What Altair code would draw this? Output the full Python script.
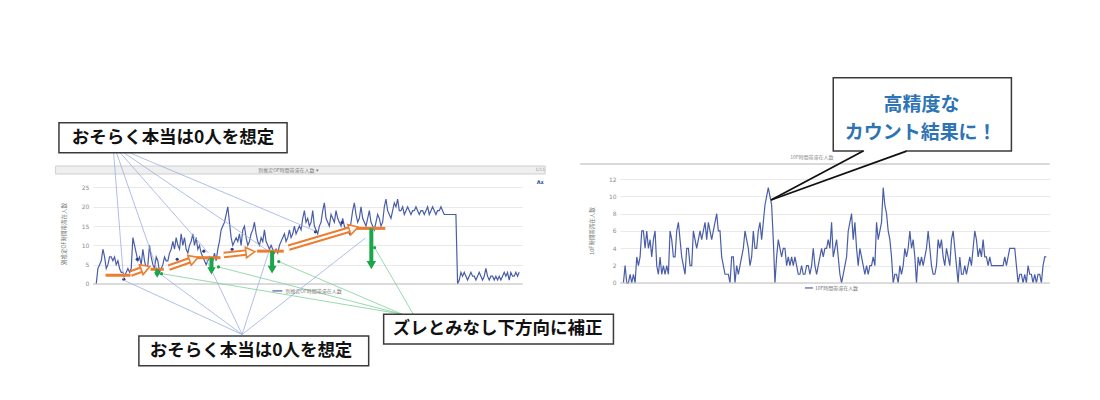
import math
import altair as alt
import pandas as pd

# ---------------- data ----------------
left_values = [
    0, 4, 5, 6, 9, 7, 4, 5, 7, 7, 6, 7, 5, 6, 4, 3, 3, 2, 3, 4, 3, 4,
    12, 10, 8, 6, 7, 5, 9, 6, 4, 5, 10, 7, 5, 4, 7, 6, 3, 4, 5, 7, 6, 6, 8, 9, 11,
    9, 12, 10, 9, 13, 10, 12, 9, 8, 10, 11, 13, 10, 12, 9, 10, 8, 7, 6, 5, 6, 7, 6, 6, 8, 6,
    9, 11, 14, 15, 16, 18, 20, 16, 12, 10, 11, 12, 11, 13, 10, 14, 15, 12, 10, 11,
    13, 14, 16, 13, 11, 10, 12, 11, 14, 11, 10, 9, 10, 9, 8, 9, 8, 10, 11, 12,
    13, 11, 12, 14, 12, 13, 15, 13, 14, 15, 14, 17, 19, 16, 17, 15, 16, 19, 15, 14,
    13, 15, 16, 19, 21, 17, 16, 15, 18, 17, 16, 19, 17, 16, 15, 17, 15, 14, 14, 13,
    16, 19, 21, 18, 16, 17, 20, 17, 16, 15, 17, 19, 16, 15, 14, 16, 18, 17, 15, 16,
    20, 22, 19, 18, 17, 19, 21, 20, 22, 19, 19, 20, 18, 19, 20, 19, 18, 19, 19, 20,
    19, 18, 19, 19, 18, 19, 20, 18, 19, 20, 19, 18, 19, 19, 20, 19, 18, 18, 18, 18,
    18, 18, 18, 18,
    0, 1, 3, 2, 3, 2, 1, 2, 3, 2, 2, 1, 2, 3, 2, 1, 2, 4, 2, 1,
    2, 2, 1, 2, 1, 2, 1, 2, 3, 2, 3, 1, 3, 2, 2, 3, 2, 3,
]
right_values = [
    0, 2, 0, 0, 1, 0, 1, 0, 3, 2, 3, 6, 6, 4, 6, 4, 5, 3, 5, 6,
    2, 1, 3, 1, 2, 1, 2, 1, 6, 5, 3, 3, 6, 7, 5, 3, 2, 1, 4, 4,
    2, 2, 6, 5, 4, 5, 6, 5, 6, 7, 5, 7, 6, 5, 6, 7, 8, 6, 6, 3,
    2, 1, 1, 1, 0, 3, 3, 0, 2, 1, 2, 3, 4, 6, 5, 4, 2, 3, 6, 4,
    4, 6, 7,
    5, 7, 9, 10, 11, 10, 9, 5, 0, 3, 5, 4, 3, 4, 4, 2, 3, 2, 3, 2,
    3, 2, 1, 1, 2, 1, 1, 2, 2, 1, 2, 4, 2, 1, 2, 3, 4, 3, 4, 4,
    5, 4, 7, 3, 4, 5, 3, 1, 0, 1, 2, 3, 6, 7, 8, 5, 7, 4, 2, 4,
    3, 2, 1, 2, 1, 2, 2, 3, 2, 7, 5, 6, 7, 11, 9, 8, 6, 5, 3, 0,
    1, 1, 0,
    2, 1, 2, 4, 3, 4, 6, 4, 5, 3, 0, 3, 2, 3, 2, 3, 4, 6, 4, 2,
    1, 1, 2, 5, 4, 5, 3, 2, 4, 3, 2, 5, 6, 4, 2, 0, 3, 1, 1, 2,
    1, 2, 3, 2, 4, 6, 5, 3, 4, 3, 5, 3, 3, 2, 3, 2, 2, 2, 2, 2,
    2, 2, 2, 3, 2, 3, 4, 4, 4, 4, 2, 0, 1, 1, 0, 1, 0, 2, 1, 1,
    0, 1, 0, 1, 1, 0, 2, 3, 3,
]
left_ticks = [0, 5, 10, 15, 20, 25]
right_ticks = [0, 2, 4, 6, 8, 10, 12]

left_name = "別推定OF時間帯滞在人数"
right_name = "10F時間帯滞在人数"
zero_text = "おそらく本当は0人を想定"
shift_text = "ズレとみなし下方向に補正"
callout_text = ["高精度な", "カウント結果に！"]

# annotation anchors (in each panel's data units)
orange_levels = [(5.6, 20.6, 2.25), (32.6, 40.6, 3.8), (60.6, 74.6, 6.8),
                 (96.6, 112.6, 8.5), (156.6, 173.6, 14.4)]
hollow_arrows = [(20.6, 2.67, 29.6, 4.1), (43.6, 4.22, 58.6, 6.5),
                 (76.6, 7.49, 92.6, 8.25), (115.6, 9.4, 154.6, 14.4)]
green_arrows = [(36.6, 3.8, 2.3, 40), (69.2, 6.8, 3.4, 70),
                (105.6, 8.5, 3.7, 80), (165.2, 14.4, 4.9, 90)]
green_dots = [(39.2, 2.67), (73.4, 4.4), (109.6, 5.8), (167.2, 9.4)]
navy_dots = [(16.6, 1.2), (24.6, 6.4), (48.6, 6.4), (64.6, 8.5), (81.6, 9.0),
             (131.6, 13.5), (147.6, 15.9)]
top_links = [(10.4, 34.2, 16.4, 1.3), (12.0, 34.2, 36.8, 3.4), (14.0, 34.2, 67.4, 8.0),
             (16.0, 34.2, 103.4, 8.5), (19.0, 34.2, 131.6, 13.7)]
bottom_links = [(87.6, -13.1, 16.4, 1.0), (87.6, -13.1, 36.8, 3.1), (87.6, -13.1, 65.6, 6.8),
                (87.6, -13.1, 103.4, 8.0), (87.6, -13.1, 161.6, 11.9)]
green_links = [(183.6, -7.85, 39.2, 2.67), (183.6, -7.85, 73.4, 4.4),
               (183.6, -7.85, 109.6, 5.8), (190.4, -7.85, 167.2, 9.4)]

XDOM = [-2, 256]
W = 430
LH, RH = 105, 104
LYMAX = 27.2
RYMAX = 12
PXX = W / (XDOM[1] - XDOM[0])
PXL = LH / LYMAX
PXR = RH / RYMAX

ORANGE = "#ed7d31"
GREEN = "#1aa64a"
LINE_BLUE = "#4a5ea8"
JP = "Noto Sans CJK JP"


def X(f="x"):
    return alt.X(f"{f}:Q", scale=alt.Scale(domain=XDOM, nice=False, zero=False), axis=None)


def make_y(ymax, ticks):
    ax = alt.Axis(values=ticks, grid=True, gridColor="#e9e9e9", domain=False, ticks=False,
                  labelFontSize=6, labelColor="#8c8c8c", labelPadding=4, title=None,
                  labelFont="DejaVu Sans")

    def Y(f="y"):
        return alt.Y(f"{f}:Q", scale=alt.Scale(domain=[0, ymax], nice=False, zero=False), axis=ax)
    return Y


LY = make_y(LYMAX, left_ticks)
RY = make_y(RYMAX, right_ticks)


def segs(rows):
    return pd.DataFrame(rows, columns=["x", "y", "x2", "y2"])


def rules(rows, Y, **kw):
    return alt.Chart(segs(rows)).mark_rule(**kw).encode(x=X("x"), y=Y("y"), x2="x2", y2="y2")


def box(x, x2, y, y2, Y):
    return alt.Chart(pd.DataFrame([{"x": x, "x2": x2, "y": y, "y2": y2}])).mark_rect(
        fill="white", stroke="#3a3a3a", strokeWidth=1.5).encode(x=X("x"), x2="x2", y=Y("y"), y2="y2")


def label(x, y, text, Y, **kw):
    return alt.Chart(pd.DataFrame([{"x": x, "y": y, "t": text}])).mark_text(**kw).encode(
        x=X("x"), y=Y("y"), text="t:N")


# ---------------- left panel ----------------
ldf = pd.DataFrame({"x": list(range(len(left_values))), "y": left_values})

frame = alt.Chart(pd.DataFrame([{"x": -52.6, "x2": 597.8, "y": 71.24, "y2": -28.24}])).mark_rect(
    opacity=0).encode(x=X("x"), x2="x2", y=LY("y"), y2="y2")

header = alt.Chart(pd.DataFrame([{"x": -24.4, "x2": 269.6, "y": 30.57, "y2": 28.5}])).mark_rect(
    fill="#efefef", stroke="#cfcfcf", strokeWidth=1).encode(x=X("x"), x2="x2", y=LY("y"), y2="y2")

baseline_l = alt.Chart(pd.DataFrame({"y": [0]})).mark_rule(color="#c4c4c4", strokeWidth=1).encode(y=LY("y"))

series_l = alt.Chart(ldf).mark_line(color=LINE_BLUE, strokeWidth=1.2, interpolate="linear").encode(
    x=X("x"), y=LY("y"))

navy = alt.Chart(pd.DataFrame(navy_dots, columns=["x", "y"])).mark_circle(
    color="#2b3b8c", size=10, opacity=1).encode(x=X("x"), y=LY("y"))

link_top = rules(top_links, LY, color="#9aaee0", strokeWidth=0.8)
link_bot = rules(bottom_links, LY, color="#9aaee0", strokeWidth=0.8)
link_green = rules(green_links, LY, color="#7fcf9a", strokeWidth=0.8)

olev = rules([(a, y, b, y) for a, b, y in orange_levels], LY, color=ORANGE, strokeWidth=3)
h_outer = rules(hollow_arrows, LY, color=ORANGE, strokeWidth=6.5)
h_inner = rules(hollow_arrows, LY, color="white", strokeWidth=2.5)
heads = []
for x0, y0, x1, y1 in hollow_arrows:
    ang = math.degrees(math.atan2(-(y1 - y0) * PXL, (x1 - x0) * PXX)) % 360
    heads.append({"x": x1, "y": y1, "a": ang})
h_heads = alt.Chart(pd.DataFrame(heads)).mark_point(
    shape="triangle-right", filled=True, fill="white", stroke=ORANGE, strokeWidth=1.6,
    size=110, opacity=1).encode(x=X("x"), y=LY("y"), angle=alt.Angle("a:Q", scale=None))

g_shaft = rules([(x, y0, x, y1) for x, y0, y1, s in green_arrows], LY, color=GREEN, strokeWidth=4)
g_heads = alt.Chart(pd.DataFrame([{"x": x, "y": y1, "s": s} for x, y0, y1, s in green_arrows])).mark_point(
    shape="triangle-down", filled=True, color=GREEN, opacity=1).encode(
    x=X("x"), y=LY("y"), size=alt.Size("s:Q", scale=None))
g_dots = alt.Chart(pd.DataFrame(green_dots, columns=["x", "y"])).mark_circle(
    color=GREEN, size=10, opacity=1).encode(x=X("x"), y=LY("y"))

top_box = box(-22.4, 114.6, 41.8, 34.0, LY)
top_txt = label(46.1, 37.9, zero_text, LY, font=JP, fontWeight="bold", fontSize=17.5,
                color="#111", baseline="middle", align="center")
bot_box = box(25.6, 163.6, -13.5, -21.2, LY)
bot_txt = label(93.0, -17.36, zero_text, LY, font=JP, fontWeight="bold", fontSize=17.5,
                color="#111", baseline="middle", align="center")
shift_box = box(172.6, 310.6, -7.85, -15.6, LY)
shift_txt = label(241.0, -11.74, shift_text, LY, font=JP, fontWeight="bold", fontSize=17.5,
                  color="#111", baseline="middle", align="center")

l_title = label(115.4, 29.5, left_name + " ▾", LY, font=JP, fontSize=5, color="#777",
                baseline="middle", align="center")
l_page = label(266.6, 29.5, "1/11", LY, font="DejaVu Sans", fontSize=4.5, color="#999",
               baseline="middle", align="center")
l_ax = label(266.6, 26.5, "Ax", LY, font="DejaVu Sans", fontSize=5, fontWeight="bold",
             color="#2f4fa0", baseline="middle", align="center")
l_ytitle = label(-19.6, 12.95, left_name, LY, font=JP, fontSize=5.5, color="#777",
                 baseline="middle", align="center", angle=270)
l_leg_line = rules([(105.8, -1.81, 111.8, -1.81)], LY, color=LINE_BLUE, strokeWidth=1.2)
l_leg_txt = label(113.6, -1.81, left_name, LY, font=JP, fontSize=5, color="#777",
                  baseline="middle", align="left")

left = alt.layer(
    frame, header, series_l, baseline_l, navy,
    link_top, link_bot, link_green,
    olev, h_outer, h_inner, h_heads, g_shaft, g_heads, g_dots,
    top_box, top_txt, bot_box, bot_txt, shift_box, shift_txt,
    l_title, l_page, l_ax, l_ytitle, l_leg_line, l_leg_txt,
).properties(width=W, height=LH)

# ---------------- right panel ----------------
rdf = pd.DataFrame({"x": list(range(len(right_values))), "y": right_values})

r_header = rules([(-26, 13.73, 256, 13.73)], RY, color="#d9d9d9", strokeWidth=2)
r_title = label(113.2, 14.2, right_name, RY, font=JP, fontSize=5, color="#888",
                baseline="bottom", align="center")
baseline_r = alt.Chart(pd.DataFrame({"y": [0]})).mark_rule(color="#c4c4c4", strokeWidth=1).encode(y=RY("y"))
series_r = alt.Chart(rdf).mark_line(color=LINE_BLUE, strokeWidth=1.2, interpolate="linear").encode(
    x=X("x"), y=RY("y"))

c_box = box(126, 233, 23.69, 15.23, RY)
c_gap = rules([(144.5, 15.23, 169.5, 15.23)], RY, color="white", strokeWidth=2.5)
c_ptr = rules([(144, 15.23, 88.6, 9.58), (170, 15.23, 88.6, 9.58)], RY, color="#111", strokeWidth=1.8)
c_t1 = label(179.0, 20.54, callout_text[0], RY, font=JP, fontWeight="bold", fontSize=19,
             color="#2e74b5", baseline="middle", align="center")
c_t2 = label(178.5, 17.34, callout_text[1], RY, font=JP, fontWeight="bold", fontSize=19,
             color="#2e74b5", baseline="middle", align="center")
r_ytitle = label(-18.8, 6.0, right_name, RY, font=JP, fontSize=5.5, color="#777",
                 baseline="middle", align="center", angle=270)
r_leg_line = rules([(109, -0.58, 113.8, -0.58)], RY, color=LINE_BLUE, strokeWidth=1.2)
r_leg_txt = label(115, -0.58, right_name, RY, font=JP, fontSize=5, color="#777",
                  baseline="middle", align="left")

right = alt.layer(
    r_header, r_title, series_r, baseline_r,
    c_box, c_gap, c_ptr, c_t1, c_t2, r_ytitle, r_leg_line, r_leg_txt,
).properties(width=W, height=RH)

chart = alt.hconcat(left, right, spacing=97.67, bounds="flush").properties(
    padding=0, background="white"
).configure_view(stroke=None)

chart.save("out.html", embed_options={"renderer": "svg", "actions": False})
